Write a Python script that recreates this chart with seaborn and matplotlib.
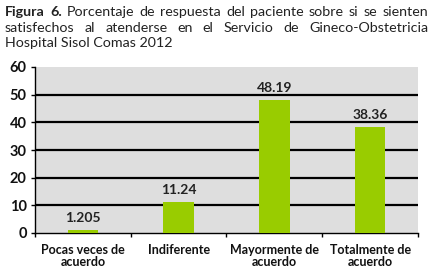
import matplotlib
matplotlib.use("Agg")
import pandas as pd
import seaborn as sns
import matplotlib.pyplot as plt

# data
categories = ["Pocas veces de\nacuerdo", "Indiferente", "Mayormente de\nacuerdo", "Totalmente de\nacuerdo"]
values = [1.205, 11.24, 48.19, 38.36]
value_labels = ["1.205", "11.24", "48.19", "38.36"]
y_ticks = [0, 10, 20, 30, 40, 50, 60]

title_lines = [
    [("Figura", "bold"), ("6.", "bold"), ("Porcentaje", "normal"), ("de", "normal"), ("respuesta", "normal"),
     ("del", "normal"), ("paciente", "normal"), ("sobre", "normal"), ("si", "normal"), ("se", "normal"),
     ("sienten", "normal")],
    [("satisfechos", "normal"), ("al", "normal"), ("atenderse", "normal"), ("en", "normal"), ("el", "normal"),
     ("Servicio", "normal"), ("de", "normal"), ("Gineco-Obstetricia", "normal")],
]
last_line = "Hospital Sisol Comas 2012"

df = pd.DataFrame({"categoria": categories, "porcentaje": values})

sns.set_theme(style="white")
plt.rcParams["font.family"] = ["Lato", "DejaVu Sans"]

fig = plt.figure(figsize=(4.33, 2.73), dpi=100)
ax = fig.add_axes([35 / 433, 40 / 273, 383 / 433, 166 / 273])
ax.set_facecolor("#dedede")

sns.barplot(data=df, x="categoria", y="porcentaje", color="#99cc00", width=0.32,
            saturation=1, linewidth=0, edgecolor="#99cc00", ax=ax, zorder=3)

# black horizontal gridlines (not at 0 or at the top)
for t in y_ticks[1:-1]:
    ax.axhline(t, color="black", lw=1.6, zorder=1)

ax.set_ylim(0, 60)
ax.set_xlim(-0.5, 3.5)
ax.set_yticks(y_ticks)
ax.set_xlabel("")
ax.set_ylabel("")

ax.bar_label(ax.containers[0], labels=value_labels, padding=4, fontsize=10,
             fontweight="bold", color="#222222")

for s in ["top", "right"]:
    ax.spines[s].set_visible(False)
for s in ["left", "bottom"]:
    ax.spines[s].set_color("black")
    ax.spines[s].set_linewidth(1.0)

ax.tick_params(axis="y", length=3, width=1, color="black", labelsize=10.5, pad=3, left=True)
ax.tick_params(axis="x", which="major", length=0, labelsize=9, pad=8)
ax.set_xticks([-0.5, 0.5, 1.5, 2.5, 3.5], minor=True)
ax.tick_params(axis="x", which="minor", length=3, width=1, color="black", bottom=True)
for lab in ax.get_yticklabels() + ax.get_xticklabels():
    lab.set_fontweight("bold")
    lab.set_color("#111111")
for lab in ax.get_xticklabels():
    lab.set_linespacing(1.0)

# justified title lines
renderer = fig.canvas.get_renderer()
x0, x1 = 5 / 433, 428 / 433
baselines = [1 - 16 / 273, 1 - 32 / 273]
for words, yb in zip(title_lines, baselines):
    texts = [fig.text(0, yb, w, fontsize=10.3, fontweight=fw, va="baseline", color="#222222")
             for w, fw in words]
    widths = [t.get_window_extent(renderer).width / fig.bbox.width for t in texts]
    gap = (x1 - x0 - sum(widths)) / (len(texts) - 1)
    x = x0
    for t, w in zip(texts, widths):
        t.set_x(x)
        x += w + gap
fig.text(x0, 1 - 47 / 273, last_line, fontsize=10.3, va="baseline", color="#222222")

fig.savefig("out.png", dpi=100)
